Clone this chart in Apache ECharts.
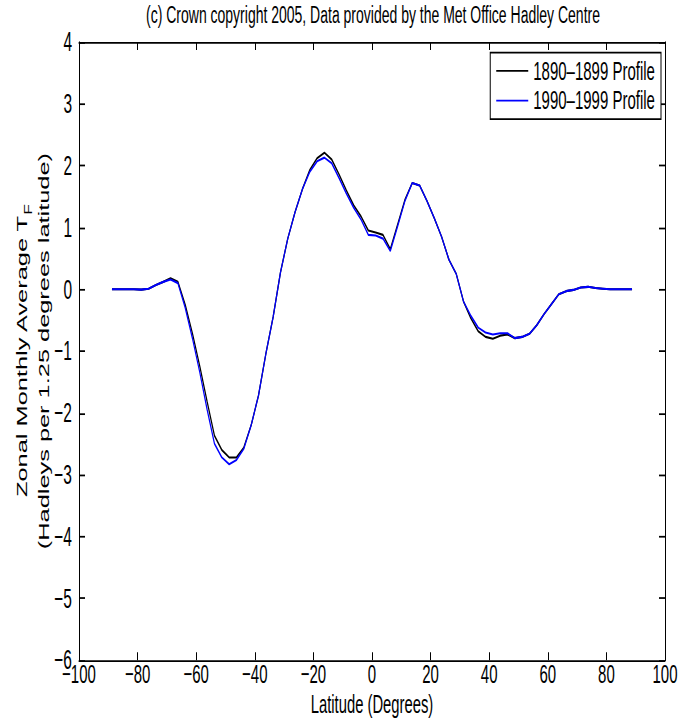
<!DOCTYPE html>
<html>
<head>
<meta charset="utf-8">
<script src="https://cdn.jsdelivr.net/npm/echarts@6/dist/echarts.min.js"></script>
<style>
html,body{margin:0;padding:0;background:#fff;overflow:hidden}
#wrap{width:679px;height:718px;overflow:hidden;position:relative}
#c{width:679px;height:410px;transform:scaleY(1.7512);transform-origin:0 0;position:absolute;left:0;top:0}
</style>
</head>
<body>
<div id="wrap"><div id="c"></div></div>
<script>
var titleText = '(c) Crown copyright 2005, Data provided by the Met Office Hadley Centre';
var seriesNames = ['1890\u20131899 Profile', '1990\u20131999 Profile'];
var latitudes = [-88.75,-86.25,-83.75,-81.25,-78.75,-76.25,-73.75,-71.25,-68.75,-66.25,
  -63.75,-61.25,-58.75,-56.25,-53.75,-51.25,-48.75,-46.25,-43.75,-41.25,
  -38.75,-36.25,-33.75,-31.25,-28.75,-26.25,-23.75,-21.25,-18.75,-16.25,
  -13.75,-11.25,-8.75,-6.25,-3.75,-1.25,1.25,3.75,6.25,8.75,
  11.25,13.75,16.25,18.75,21.25,23.75,26.25,28.75,31.25,33.75,
  36.25,38.75,41.25,43.75,46.25,48.75,51.25,53.75,56.25,58.75,
  61.25,63.75,66.25,68.75,71.25,73.75,76.25,78.75,81.25,83.75,86.25,88.75];
var profile1890 = [0.0,0.0,0.0,0.0,-0.005,0.01,0.07,0.12,0.18,0.12,
  -0.25,-0.72,-1.25,-1.82,-2.37,-2.6,-2.72,-2.72,-2.56,-2.2,
  -1.72,-1.05,-0.45,0.27,0.82,1.25,1.62,1.93,2.12,2.21,
  2.1,1.86,1.6,1.36,1.18,0.95,0.92,0.88,0.65,1.05,
  1.45,1.72,1.68,1.43,1.15,0.85,0.48,0.25,-0.2,-0.47,
  -0.68,-0.77,-0.8,-0.75,-0.73,-0.79,-0.77,-0.72,-0.58,-0.4,
  -0.24,-0.08,-0.03,-0.01,0.03,0.04,0.02,0.01,0.0,0.0,0.0,0.0];
var profile1990 = [0.0,0.0,0.0,0.0,-0.005,0.01,0.07,0.12,0.16,0.1,
  -0.3,-0.8,-1.35,-1.95,-2.5,-2.72,-2.83,-2.76,-2.58,-2.2,
  -1.72,-1.05,-0.45,0.27,0.82,1.25,1.62,1.9,2.07,2.13,
  2.04,1.8,1.55,1.32,1.13,0.88,0.87,0.82,0.62,1.02,
  1.43,1.72,1.68,1.43,1.15,0.85,0.48,0.25,-0.2,-0.43,
  -0.62,-0.7,-0.73,-0.71,-0.71,-0.79,-0.77,-0.72,-0.58,-0.4,
  -0.24,-0.08,-0.03,-0.01,0.03,0.04,0.02,0.01,0.0,0.0,0.0,0.0];
var xLabel = 'Latitude (Degrees)';
var yLabel1 = 'Zonal Monthly Average T';
var yLabelSub = 'F';
var yLabel2 = '(Hadleys per 1.25 degrees latitude)';

var font = '"Liberation Sans", Arial, Helvetica, sans-serif';
function pairs(ys){ return latitudes.map(function(x,i){ return [x, ys[i]]; }); }
function minus(v){ return String(v).replace('-', '\u2212'); }

var chart = echarts.init(document.getElementById('c'), null, {renderer:'svg'});
function axisCommon(tickLen){
  return {
    axisLine:{show:true, onZero:false, lineStyle:{color:'#000', width:1}},
    axisTick:{show:true, inside:true, length:tickLen, lineStyle:{color:'#000', width:1}},
    splitLine:{show:false},
    nameMoveOverlap:false
  };
}
chart.setOption({
  animation:false,
  backgroundColor:'#fff',
  title:{text:titleText, left:368, textAlign:'center', top:-4,
    textStyle:{fontFamily:font, fontSize:14, fontWeight:'normal', color:'#000'}},
  grid:{left:79, right:14, top:24, bottom:33, containLabel:false, outerBoundsMode:'none'},
  legend:{orient:'vertical', right:18, top:30, padding:[3,6,3,6], itemGap:2,
    borderColor:'#000', borderWidth:1, borderRadius:0, backgroundColor:'#fff',
    itemWidth:32, itemHeight:1, icon:'rect',
    textStyle:{fontFamily:font, fontSize:15, lineHeight:15, color:'#000'},
    data:seriesNames},
  xAxis:[
    Object.assign({type:'value', min:-100, max:100, interval:20, position:'bottom',
      name:xLabel, nameLocation:'middle', nameGap:18,
      nameTextStyle:{fontFamily:font, fontSize:14.8, lineHeight:14, color:'#000', verticalAlign:'top'},
      axisLabel:{fontFamily:font, fontSize:15, lineHeight:14, color:'#000', margin:1, formatter:minus}}, axisCommon(4.5)),
    Object.assign({type:'value', min:-100, max:100, interval:20, position:'top',
      axisLabel:{show:false}}, axisCommon(4.5))
  ],
  yAxis:[
    Object.assign({type:'value', min:-6, max:4, interval:1, position:'left',
      name:'{a|' + yLabel1 + '}{s|' + yLabelSub + '}\n{a|' + yLabel2 + '}',
      nameLocation:'middle', nameRotate:90, nameGap:46,
      nameTextStyle:{fontFamily:font, fontSize:14.5, color:'#000', lineHeight:22, align:'center', verticalAlign:'middle',
        rich:{a:{fontFamily:font, fontSize:14.5, color:'#000', lineHeight:22},
              s:{fontFamily:font, fontSize:10, color:'#000', lineHeight:22, verticalAlign:'bottom', padding:[9,0,0,0]}}},
      axisLabel:{fontFamily:font, fontSize:15.5, lineHeight:14, color:'#000', margin:7, formatter:minus}}, axisCommon(6)),
    Object.assign({type:'value', min:-6, max:4, interval:1, position:'right',
      axisLabel:{show:false}}, axisCommon(6))
  ],
  series:[
    {name:seriesNames[0], type:'line', data:pairs(profile1890), showSymbol:false, symbol:'none',
      lineStyle:{color:'#000', width:1.2}, itemStyle:{color:'#000'}, smooth:false, z:2},
    {name:seriesNames[1], type:'line', data:pairs(profile1990), showSymbol:false, symbol:'none',
      lineStyle:{color:'#0000ff', width:1.2}, itemStyle:{color:'#0000ff'}, smooth:false, z:3}
  ]
});
</script>
</body>
</html>
